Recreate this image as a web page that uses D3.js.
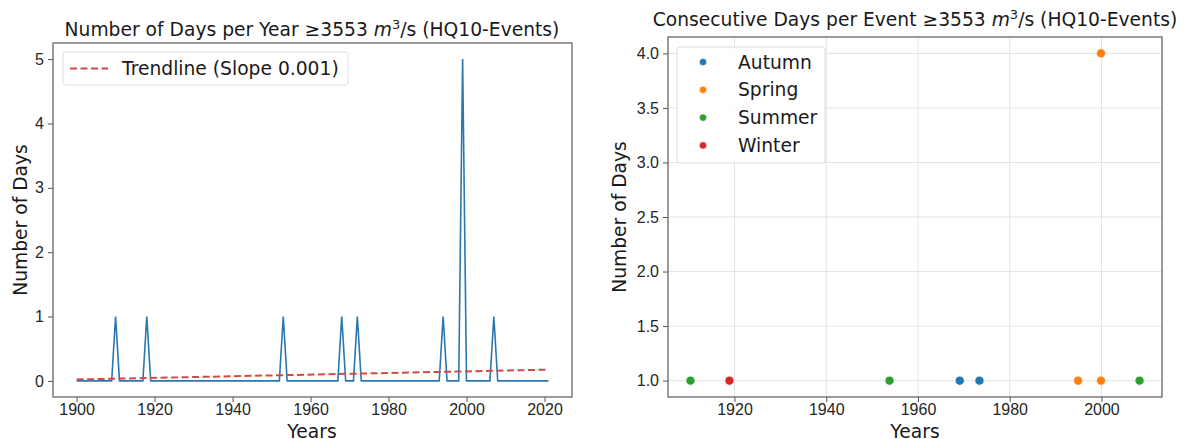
<!DOCTYPE html>
<html lang="en">
<head>
<meta charset="UTF-8">
<title>HQ10 Events</title>
<script src="https://d3js.org/d3.v7.min.js"></script>
<style>
    body { margin: 0; background: #fff; }
    svg { display: block; font-family: "DejaVu Sans", sans-serif; }
    .tick text { fill: #262626; font-size: 16px; }
    .tick line { stroke: #555; }
    .domain { display: none; }
</style>
</head>
<body>
<svg id="chart" width="1188" height="439"></svg>
<script>
// left panel: days per year
const years = d3.range(1900, 2022);
const daysPerYear = [
    0,0,0,0,0,0,0,0,0,0,   // 1900s
    1,0,0,0,0,0,0,0,1,0,   // 1910s
    0,0,0,0,0,0,0,0,0,0,   // 1920s
    0,0,0,0,0,0,0,0,0,0,   // 1930s
    0,0,0,0,0,0,0,0,0,0,   // 1940s
    0,0,0,1,0,0,0,0,0,0,   // 1950s
    0,0,0,0,0,0,0,0,1,0,   // 1960s
    0,0,1,0,0,0,0,0,0,0,   // 1970s
    0,0,0,0,0,0,0,0,0,0,   // 1980s
    0,0,0,0,1,0,0,0,0,5,   // 1990s
    0,0,0,0,0,0,0,1,0,0,   // 2000s
    0,0,0,0,0,0,0,0,0,0,   // 2010s
    0,0                    // 2020s
];
const trendYears = [1900, 2021];
const trendValues = [0.022, 0.175];
const leftXTicks = [1900, 1920, 1940, 1960, 1980, 2000, 2020];
const leftYTicks = [0, 1, 2, 3, 4, 5];

// right panel: consecutive days per event
const eventYears = [1910.4, 1918.9, 1953.8, 1969.1, 1973.4, 1994.9, 1999.9, 1999.9, 2008.3];
const eventDays = [1, 1, 1, 1, 1, 1, 1, 4, 1];
const eventSeasons = ["Summer", "Winter", "Summer", "Autumn", "Autumn", "Spring", "Spring", "Spring", "Summer"];
const seasons = ["Autumn", "Spring", "Summer", "Winter"];
const seasonColors = ["#1f77b4", "#ff7f0e", "#2ca02c", "#d62728"];
const rightXTicks = [1920, 1940, 1960, 1980, 2000];
const rightYTicks = [1.0, 1.5, 2.0, 2.5, 3.0, 3.5, 4.0];

const FS = 18.7;
const svg = d3.select("#chart");

// matplotlib-like 5% padding
function padded(ext) {
    const p = (ext[1] - ext[0]) * 0.05;
    return [ext[0] - p, ext[1] + p];
}

function title(g, cx, y, pre) {
    const t = g.append("text")
        .attr("x", cx).attr("y", y)
        .attr("text-anchor", "middle")
        .attr("font-size", FS)
        .attr("fill", "#1a1a1a");
    t.append("tspan").text(pre + " \u22653553 ");
    t.append("tspan").attr("font-style", "italic").text("m");
    t.append("tspan").attr("font-size", 13).attr("dy", -7.5).text("3");
    t.append("tspan").attr("dy", 7.5).text("/s (HQ10-Events)");
}

function frame(g, x0, x1, y0, y1) {
    g.append("rect")
        .attr("x", x0).attr("y", y1)
        .attr("width", x1 - x0).attr("height", y0 - y1)
        .attr("fill", "none")
        .attr("stroke", "#666")
        .attr("stroke-width", 1.3);
}

function axisLabels(g, cx, cy, yx) {
    g.append("text")
        .attr("x", cx).attr("y", 438)
        .attr("text-anchor", "middle")
        .attr("font-size", FS)
        .attr("fill", "#1a1a1a")
        .text("Years");
    g.append("text")
        .attr("transform", `translate(${yx},${cy}) rotate(-90)`)
        .attr("text-anchor", "middle")
        .attr("font-size", FS)
        .attr("fill", "#1a1a1a")
        .text("Number of Days");
}

// ---------- left chart ----------
const L = svg.append("g");
const xL = d3.scaleLinear().domain(padded(d3.extent(years))).range([53, 572]);
const yL = d3.scaleLinear().domain(padded([0, d3.max(daysPerYear)])).range([397, 43]);

L.append("g")
    .attr("transform", "translate(0,397)")
    .call(d3.axisBottom(xL).tickValues(leftXTicks).tickFormat(d3.format("d")).tickSize(5).tickPadding(2));
L.append("g")
    .attr("transform", "translate(53,0)")
    .call(d3.axisLeft(yL).tickValues(leftYTicks).tickFormat(d3.format("d")).tickSize(5).tickPadding(4));

L.append("path")
    .datum(years.map((y, i) => [y, daysPerYear[i]]))
    .attr("fill", "none")
    .attr("stroke", "#2b78b0")
    .attr("stroke-width", 1.6)
    .attr("d", d3.line().x(d => xL(d[0])).y(d => yL(d[1])));

L.append("path")
    .datum(trendYears.map((y, i) => [y, trendValues[i]]))
    .attr("fill", "none")
    .attr("stroke", "#d04a4c")
    .attr("stroke-width", 2)
    .attr("stroke-dasharray", "7,3.5")
    .attr("d", d3.line().x(d => xL(d[0])).y(d => yL(d[1])));

frame(L, 53, 572, 397, 43);
title(L, 312, 36, "Number of Days per Year");
axisLabels(L, 312, 220, 27);

// legend
const lg = L.append("g");
lg.append("rect")
    .attr("x", 63).attr("y", 52).attr("width", 285).attr("height", 33)
    .attr("rx", 3).attr("fill", "#fff").attr("fill-opacity", 0.85)
    .attr("stroke", "#ddd");
lg.append("line")
    .attr("x1", 70).attr("x2", 108).attr("y1", 68.5).attr("y2", 68.5)
    .attr("stroke", "#d04a4c").attr("stroke-width", 2).attr("stroke-dasharray", "7,3.5");
lg.append("text")
    .attr("x", 122).attr("y", 75)
    .attr("font-size", FS).attr("fill", "#1a1a1a")
    .text("Trendline (Slope 0.001)");

// ---------- right chart ----------
const R = svg.append("g");
const xR = d3.scaleLinear().domain(padded(d3.extent(eventYears))).range([668, 1162]);
const yR = d3.scaleLinear().domain(padded(d3.extent(eventDays))).range([397, 37]);
const color = d3.scaleOrdinal().domain(seasons).range(seasonColors);

// grid
R.append("g").selectAll("line.gx").data(rightXTicks).join("line")
    .attr("x1", d => xR(d)).attr("x2", d => xR(d))
    .attr("y1", 37).attr("y2", 397)
    .attr("stroke", "#e3e3e3").attr("stroke-width", 1);
R.append("g").selectAll("line.gy").data(rightYTicks).join("line")
    .attr("x1", 668).attr("x2", 1162)
    .attr("y1", d => yR(d)).attr("y2", d => yR(d))
    .attr("stroke", "#e3e3e3").attr("stroke-width", 1);

R.append("g")
    .attr("transform", "translate(0,397)")
    .call(d3.axisBottom(xR).tickValues(rightXTicks).tickFormat(d3.format("d")).tickSize(5).tickPadding(2));
R.append("g")
    .attr("transform", "translate(668,0)")
    .call(d3.axisLeft(yR).tickValues(rightYTicks).tickFormat(d3.format(".1f")).tickSize(5).tickPadding(4));

R.append("g").selectAll("circle")
    .data(eventYears.map((y, i) => ({year: y, days: eventDays[i], season: eventSeasons[i]})))
    .join("circle")
    .attr("cx", d => xR(d.year))
    .attr("cy", d => yR(d.days))
    .attr("r", 4.5)
    .attr("fill", d => color(d.season))
    .attr("stroke", "#fff")
    .attr("stroke-width", 0.6);

frame(R, 668, 1162, 397, 37);
title(R, 915, 26, "Consecutive Days per Event");
axisLabels(R, 915, 217, 626);

const rg = R.append("g");
rg.append("rect")
    .attr("x", 677).attr("y", 47).attr("width", 148).attr("height", 116)
    .attr("rx", 3).attr("fill", "#fff").attr("fill-opacity", 0.85)
    .attr("stroke", "#ddd");
seasons.forEach((s, i) => {
    const y = 62 + i * 27.8;
    rg.append("circle").attr("cx", 703).attr("cy", y).attr("r", 3.6)
        .attr("fill", color(s)).attr("stroke", "#fff").attr("stroke-width", 0.5);
    rg.append("text").attr("x", 738).attr("y", y + 6.5)
        .attr("font-size", FS).attr("fill", "#1a1a1a").text(s);
});
</script>
</body>
</html>
